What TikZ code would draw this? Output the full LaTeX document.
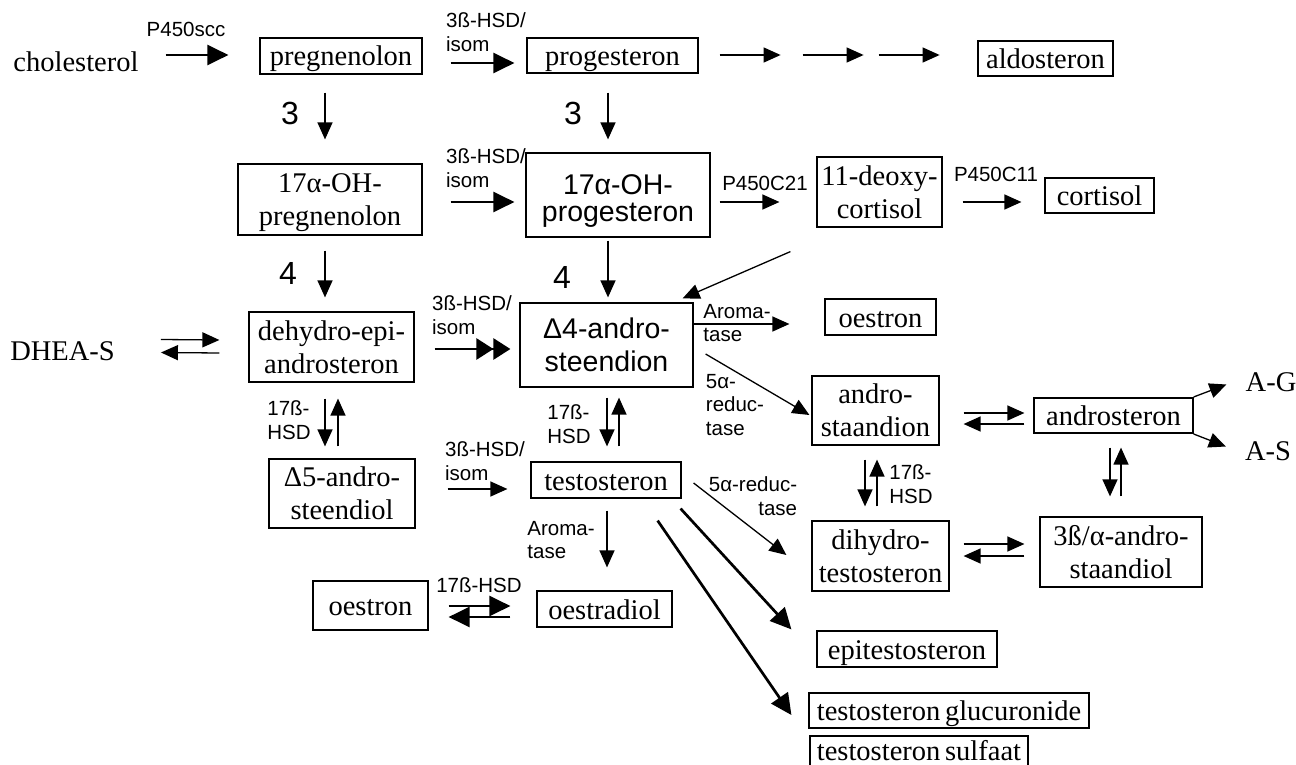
\documentclass[tikz,border=0pt]{standalone}
\usepackage{fontspec}
\setmainfont{Liberation Serif}
\setsansfont{Liberation Sans}
\usetikzlibrary{arrows.meta}
\newcommand\stofffont{\fontsize{28.5}{33}\selectfont}
\newcommand\enzfont{\sffamily\fontsize{20.5}{23.5}\selectfont}
\newcommand\nrfont{\sffamily\fontsize{32}{36}\selectfont}

\begin{document}
\begin{tikzpicture}[x=1pt, y=-1pt, >={Triangle[length=17pt,width=15pt]}]
    \tikzstyle{stof} = [draw, line width=1.2pt, inner sep=0pt, font=\stofffont,
	align=center, text depth=0pt]
    \tikzstyle{een} = [stof, text height=20pt]
    \tikzstyle{stofsf} = [stof, font=\sffamily\stofffont]
    \tikzstyle{txt} = [inner sep=0pt, font=\stofffont, text depth=0pt]
    \tikzstyle{enz} = [inner sep=0pt, font=\enzfont, align=left]
    \tikzstyle{nr} = [inner sep=0pt, font=\nrfont]
    \tikzstyle{dun} = [->, line width=1.3pt]
    \tikzstyle{dik} = [-{Triangle[length=21pt,width=20pt]}, line width=2.7pt]

    \useasboundingbox (0,0) rectangle (1296,765);

	\begin{scope}
		\path
			node[txt] (chol) at (76,62) {cholesterol}
			node[een, minimum width=162pt, minimum height=36pt] (preg) at (341,56) {pregnenolon}
			node[een, minimum width=171pt, minimum height=35pt] (prog) at (612.5,55.5) {progesteron}
			node[een, minimum width=135pt, minimum height=35pt] (aldo) at (1045.5,58.5) {aldosteron}

			node[stof, minimum width=184pt, minimum height=71pt] (ohpreg) at (330,199.5) {17α-OH-\\pregnenolon}
			node[stofsf, font=\sffamily\fontsize{28.5}{27}\selectfont, text height=53pt,
				minimum width=184pt, minimum height=84pt] (ohprog) at (618,195) {17α-OH-\\progesteron}
			node[stof, minimum width=125pt, minimum height=70pt] (deoxy) at (879.5,192) {11-deoxy-\\cortisol}
			node[een, minimum width=109pt, minimum height=35pt] (cort) at (1099.5,195.5) {cortisol}

			node[txt] (dheas) at (62.5,351.5) {DHEA-S}
			node[stof, minimum width=165pt, minimum height=70pt] (dhea) at (331.5,347) {dehydro-epi-\\androsteron}
			node[stofsf, minimum width=173pt, minimum height=84pt] (adion) at (606.5,345) {Δ4-andro-\\steendion}
			node[een, minimum width=111pt, minimum height=36pt] (oestA) at (880.5,317) {oestron}
			node[stof, minimum width=127pt, minimum height=69pt] (astd) at (875.5,410.5) {andro-\\staandion}
			node[een, minimum width=159pt, minimum height=35pt] (andst) at (1113.5,415.5) {androsteron}
			node[txt] (ag) at (1271,382.5) {A-G}
			node[txt] (as) at (1268,451.5) {A-S}

			node[stof, minimum width=146pt, minimum height=69pt] (adiol) at (342,493.5) {Δ5-andro-\\steendiol}
			node[een, minimum width=150pt, minimum height=36pt] (testo) at (606,480) {testosteron}
			node[stof, minimum width=137pt, minimum height=70pt] (dht) at (880.5,556) {dihydro-\\testosteron}
			node[stof, minimum width=162pt, minimum height=70pt] (astdiol) at (1121,552) {3ß/α-andro-\\staandiol}

			node[een, minimum width=115pt, minimum height=49pt] (oestB) at (370.5,605.5) {oestron}
			node[een, minimum width=135pt, minimum height=36pt] (oestrad) at (604.5,609) {oestradiol}
			node[een, minimum width=180pt, minimum height=36pt] (epi) at (907,649) {epitestosteron}
			node[een, minimum width=280pt, minimum height=35pt] (gluc) at (949,710.5) {testosteron\,glucuronide}
			node[een, text depth=16pt, minimum width=218pt, minimum height=44pt] (sulf) at (919,758) {testosteron\,sulfaat}
		;

		% enzymen
		\path
			node[enz] (lscc) at (186,29) {P450scc}
			node[enz] (lhsdA) at (486,32) {3ß-HSD/\\isom}
			node[enz] (lhsdB) at (486,168) {3ß-HSD/\\isom}
			node[enz] (lhsdC) at (472,315) {3ß-HSD/\\isom}
			node[enz] (lhsdD) at (485,461) {3ß-HSD/\\isom}
			node[enz] (lc21) at (765,183) {P450C21}
			node[enz] (lc11) at (996,174) {P450C11}
			node[enz] (laroA) at (737,323) {Aroma-\\tase}
			node[enz] (lredA) at (735,405) {5α-\\reduc-\\tase}
			node[enz] (lhsdE) at (289,420) {17ß-\\HSD}
			node[enz] (lhsdF) at (569,424) {17ß-\\HSD}
			node[enz, align=right] (lredB) at (753,496) {5α-reduc-\\tase}
			node[enz] (lhsdG) at (911,484) {17ß-\\HSD}
			node[enz] (laroB) at (561,540) {Aroma-\\tase}
			node[enz] (lhsdH) at (479,585) {17ß-HSD}
			node[nr] (nA) at (290,113) {3}
			node[nr] (nB) at (573,113) {3}
			node[nr] (nC) at (288,273) {4}
			node[nr] (nD) at (562,277) {4}
		;

		\path ([xshift=21pt,yshift=0.5pt]prog.east) coordinate (k1)
			++(61,0) coordinate (k2) ++(22,0) coordinate (k3)
			++(61,0) coordinate (k4) ++(15,0) coordinate (k5)
			++(61,0) coordinate (k6);

		\path[dik]
			([xshift=27pt,yshift=7pt]chol.east) edge ([xshift=-31pt,yshift=1pt]preg.west)
			([xshift=28pt,yshift=-7pt]preg.east) edge ([xshift=-12pt,yshift=-7.5pt]prog.west)
			([xshift=28pt,yshift=-2.5pt]ohpreg.east) edge ([xshift=-11pt,yshift=-7pt]ohprog.west)
			([xshift=-1pt,yshift=-10pt]testo.south east) edge ([xshift=-25pt,yshift=1pt]epi.north west)
			([xshift=-24pt,yshift=-22pt]testo.south east) edge ([xshift=-17pt,yshift=-4.5pt]gluc.west)
			([xshift=20pt,yshift=-0.5pt]oestB.east) edge ([xshift=-26pt,yshift=3pt]oestrad.west)
			([xshift=-26pt,yshift=-8pt]oestrad.west) edge ([xshift=20pt,yshift=-11.5pt]oestB.east)
			([xshift=20pt,yshift=-2pt]dhea.east) edge[-{Triangle[length=17pt,width=21pt]Triangle[length=17pt,width=21pt]}]
				([xshift=-9pt,yshift=-4pt]adion.west)
		;

		\path[dun]
			(k1) edge (k2)
			(k3) edge (k4)
			(k5) edge (k6)
			([xshift=-16pt,yshift=-18pt]preg.south) edge ([xshift=-5pt,yshift=24pt]ohpreg.north)
			([xshift=-4.5pt,yshift=-19pt]prog.south) edge ([xshift=-10pt,yshift=13pt]ohprog.north)
			([xshift=9pt,yshift=-7pt]ohprog.east) edge ([xshift=-37pt,yshift=-10pt]deoxy.west)
			([xshift=20pt,yshift=-10pt]deoxy.east) edge ([xshift=-23pt,yshift=-6.5pt]cort.west)

			([xshift=-5pt,yshift=-15pt]ohpreg.south) edge ([xshift=-6.5pt,yshift=14pt]dhea.north)
			([xshift=-10pt,yshift=-3pt]ohprog.south) edge ([xshift=1.5pt,yshift=5pt]adion.north)
			([xshift=-26pt,yshift=-24pt]deoxy.south west) edge ([xshift=-11pt,yshift=4pt]adion.north east)

			([xshift=46pt,yshift=12pt]dheas.east) edge ([xshift=-29pt,yshift=7pt]dhea.west)
			([xshift=-29pt,yshift=-6pt]dhea.west) edge ([xshift=46pt,yshift=-1pt]dheas.east)
			([yshift=21pt]adion.east) edge ([xshift=-35pt,yshift=-7pt]oestA.west)
			([xshift=12pt,yshift=-9pt]adion.east) edge ([xshift=-2pt,yshift=-4.5pt]astd.west)
			([xshift=24pt,yshift=-2.5pt]astd.east) edge ([xshift=-9pt,yshift=2.5pt]andst.west)
			([xshift=-9pt,yshift=-8.5pt]andst.west) edge ([xshift=24pt,yshift=-13.5pt]astd.east)
			([yshift=18.5pt]andst.east) edge ([xshift=-19pt,yshift=-2pt]ag.west)
			([yshift=-18.5pt]andst.east) edge ([xshift=-19pt,yshift=5pt]as.west)

			([xshift=-6.5pt,yshift=-16pt]dhea.south) edge ([xshift=-17pt,yshift=12pt]adiol.north)
			([xshift=-4pt,yshift=12pt]adiol.north) edge ([xshift=6.5pt,yshift=-16pt]dhea.south)
			([xshift=0.5pt,yshift=-10pt]adion.south) edge ([xshift=1pt,yshift=15pt]testo.north)
			([xshift=13pt,yshift=15pt]testo.north) edge ([xshift=12.5pt,yshift=-10pt]adion.south)
			([xshift=-10.5pt,yshift=-14pt]astd.south) edge ([xshift=-15.5pt,yshift=14pt]dht.north)
			([xshift=-3.5pt,yshift=14pt]dht.north) edge ([xshift=1.5pt,yshift=-14pt]astd.south)
			([xshift=-3.5pt,yshift=-14pt]andst.south) edge ([xshift=-11pt,yshift=20pt]astdiol.north)
			([yshift=20pt]astdiol.north) edge ([xshift=7.5pt,yshift=-14pt]andst.south)
			([xshift=14pt,yshift=12pt]dht.east) edge ([xshift=-15pt,yshift=8pt]astdiol.west)
			([xshift=-15pt,yshift=-4pt]astdiol.west) edge ([xshift=14pt]dht.east)

			([xshift=32pt,yshift=4.5pt]adiol.east) edge ([xshift=-23pt,yshift=-9pt]testo.west)
			([xshift=12pt,yshift=-3pt]testo.east) edge ([xshift=-25pt,yshift=1pt]dht.west)
			([xshift=1pt,yshift=-12pt]testo.south) edge ([xshift=2.5pt,yshift=23pt]oestrad.north)
		;
	\end{scope}
\end{tikzpicture}
\end{document}
